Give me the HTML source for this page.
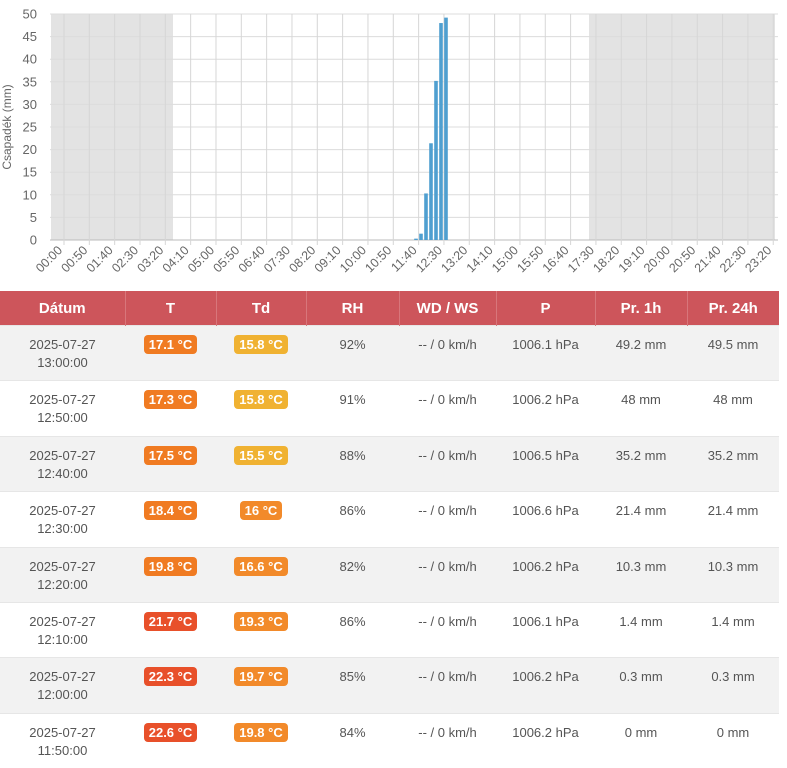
<!DOCTYPE html>
<html><head><meta charset="utf-8"><style>
body{margin:0;width:787px;height:768px;overflow:hidden;background:#fff;font-family:"Liberation Sans",sans-serif;}
#c{position:absolute;left:0;top:0}
table{position:absolute;left:0;top:291px;border-collapse:collapse;table-layout:fixed;width:779px;font-size:13px;color:#555;}
th{background:#cd555b;color:#fff;height:34px;font-size:15px;font-weight:bold;border-left:1px solid #d8767b;padding:0;}
th:first-child{border-left:none}
td{height:54.4px;padding:0;text-align:center;vertical-align:top;border-top:1px solid #e6e6e6;}
td div.l{line-height:18px;padding-top:10px}
tr.g td{background:#f2f2f2}
.b{display:inline-block;margin-top:9px;padding:0 5px;height:19px;line-height:19px;border-radius:4px;color:#fff;font-weight:bold;font-size:13px}
.o{background:#f07b22}.r{background:#e8502a}.y{background:#f0b232}.p{background:#f28a2a}
</style></head><body>
<svg id="c" width="787" height="290"></svg>
<table>
<colgroup><col style="width:125px"><col style="width:91px"><col style="width:90px"><col style="width:93px"><col style="width:97px"><col style="width:99px"><col style="width:92px"><col style="width:92px"></colgroup>
<tr><th>Dátum</th><th>T</th><th>Td</th><th>RH</th><th>WD / WS</th><th>P</th><th>Pr. 1h</th><th>Pr. 24h</th></tr>
<tr class="g"><td><div class="l">2025-07-27<br>13:00:00</div></td><td><span class="b o">17.1 °C</span></td><td><span class="b y">15.8 °C</span></td><td><div class="l">92%</div></td><td><div class="l">-- / 0 km/h</div></td><td><div class="l">1006.1 hPa</div></td><td><div class="l">49.2 mm</div></td><td><div class="l">49.5 mm</div></td></tr>
<tr><td><div class="l">2025-07-27<br>12:50:00</div></td><td><span class="b o">17.3 °C</span></td><td><span class="b y">15.8 °C</span></td><td><div class="l">91%</div></td><td><div class="l">-- / 0 km/h</div></td><td><div class="l">1006.2 hPa</div></td><td><div class="l">48 mm</div></td><td><div class="l">48 mm</div></td></tr>
<tr class="g"><td><div class="l">2025-07-27<br>12:40:00</div></td><td><span class="b o">17.5 °C</span></td><td><span class="b y">15.5 °C</span></td><td><div class="l">88%</div></td><td><div class="l">-- / 0 km/h</div></td><td><div class="l">1006.5 hPa</div></td><td><div class="l">35.2 mm</div></td><td><div class="l">35.2 mm</div></td></tr>
<tr><td><div class="l">2025-07-27<br>12:30:00</div></td><td><span class="b o">18.4 °C</span></td><td><span class="b p">16 °C</span></td><td><div class="l">86%</div></td><td><div class="l">-- / 0 km/h</div></td><td><div class="l">1006.6 hPa</div></td><td><div class="l">21.4 mm</div></td><td><div class="l">21.4 mm</div></td></tr>
<tr class="g"><td><div class="l">2025-07-27<br>12:20:00</div></td><td><span class="b o">19.8 °C</span></td><td><span class="b p">16.6 °C</span></td><td><div class="l">82%</div></td><td><div class="l">-- / 0 km/h</div></td><td><div class="l">1006.2 hPa</div></td><td><div class="l">10.3 mm</div></td><td><div class="l">10.3 mm</div></td></tr>
<tr><td><div class="l">2025-07-27<br>12:10:00</div></td><td><span class="b r">21.7 °C</span></td><td><span class="b p">19.3 °C</span></td><td><div class="l">86%</div></td><td><div class="l">-- / 0 km/h</div></td><td><div class="l">1006.1 hPa</div></td><td><div class="l">1.4 mm</div></td><td><div class="l">1.4 mm</div></td></tr>
<tr class="g"><td><div class="l">2025-07-27<br>12:00:00</div></td><td><span class="b r">22.3 °C</span></td><td><span class="b p">19.7 °C</span></td><td><div class="l">85%</div></td><td><div class="l">-- / 0 km/h</div></td><td><div class="l">1006.2 hPa</div></td><td><div class="l">0.3 mm</div></td><td><div class="l">0.3 mm</div></td></tr>
<tr><td><div class="l">2025-07-27<br>11:50:00</div></td><td><span class="b r">22.6 °C</span></td><td><span class="b p">19.8 °C</span></td><td><div class="l">84%</div></td><td><div class="l">-- / 0 km/h</div></td><td><div class="l">1006.2 hPa</div></td><td><div class="l">0 mm</div></td><td><div class="l">0 mm</div></td></tr>
</table>
<script>
var s='',L=50,R=778,T=14,B=240,k=(B-T)/50;
s+='<rect x="51" y="'+T+'" width="122" height="'+(B-T)+'" fill="#e3e3e3"/>';
s+='<rect x="589" y="'+T+'" width="186" height="'+(B-T)+'" fill="#e3e3e3"/>';
for(var v=0;v<=50;v+=5){var y=B-v*k;s+='<line x1="'+L+'" x2="'+R+'" y1="'+y+'" y2="'+y+'" stroke="'+(v?'#dcdcdc':'#bbb')+'" stroke-width="1"/>';
s+='<text x="37" y="'+(y+4.5)+'" text-anchor="end" font-size="13" fill="#666">'+v+'</text>';}
for(var i=0;i<29;i++){var x=64+i*25.33,m=i*50,h=Math.floor(m/60),mm=m%60;
var lab=(h<10?'0':'')+h+':'+(mm<10?'0':'')+mm;
s+='<line x1="'+x+'" x2="'+x+'" y1="'+T+'" y2="'+(B+5)+'" stroke="#d6d6d6"/>';
s+='<text transform="translate('+(x-1)+',251) rotate(-45)" text-anchor="end" font-size="12.5" fill="#666">'+lab+'</text>';}
var bars=[[416,0.3],[421,1.4],[426,10.3],[431,21.4],[436,35.2],[441,48],[446,49.2]];
bars.forEach(function(b){var h=b[1]*k;s+='<rect x="'+(b[0]-1.8)+'" y="'+(B-h)+'" width="3.6" height="'+h+'" fill="#4f9fd0"/>';});
s+='<text transform="translate(11,127) rotate(-90)" text-anchor="middle" font-size="12" fill="#666">Csapadék (mm)</text>';
document.getElementById('c').innerHTML=s;
</script>
</body></html>
